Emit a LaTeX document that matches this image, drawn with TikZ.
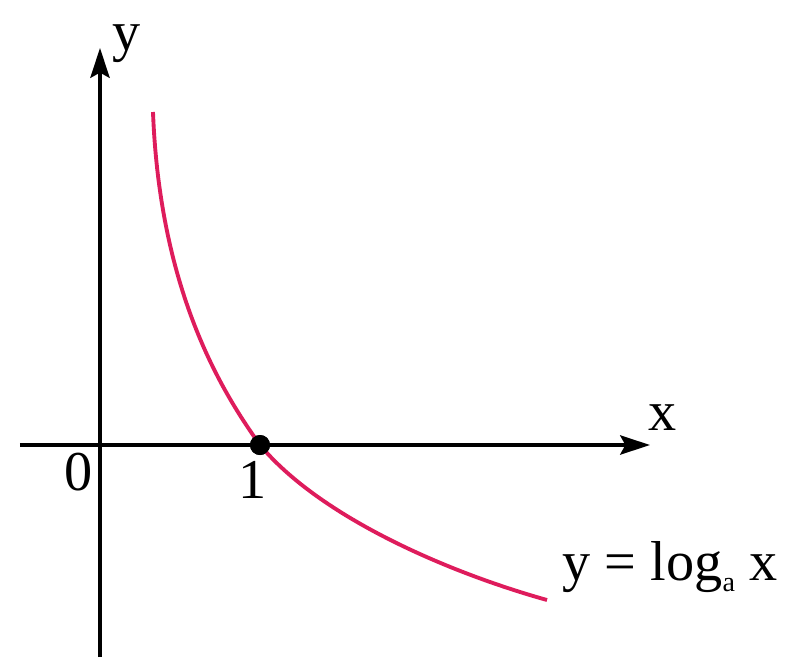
\documentclass[tikz,border=0pt]{standalone}
\usepackage{fontspec}
\setmainfont{Liberation Serif}
\usetikzlibrary{arrows.meta}
\definecolor{curvered}{RGB}{222, 28, 92}

\begin{document}
\begin{tikzpicture}[x=1cm, y=1cm, >={Stealth[length=8.5pt, width=5.5pt, inset=1.5pt]},
    lbl/.style={font=\fontsize{16}{19}\selectfont, inner sep=0pt}]
  \useasboundingbox (0,0) rectangle (7.91,6.57);

  % axes
  \coordinate (O) at (1.00,2.12);
  \coordinate (xl) at (0.20,2.12);
  \coordinate (xr) at (6.50,2.12);
  \coordinate (yb) at (1.00,0);
  \coordinate (yt) at (1.00,6.09);
  \draw[->, line width=0.9pt] (xl) -- (xr);
  \draw[->, line width=0.9pt] (yb) -- (yt);
  \node[lbl, anchor=base] (xlab) at (6.63,2.27) {x};
  \node[lbl, anchor=base] (ylab) at (1.27,6.07) {y};
  \node[lbl, anchor=base] (zero) at (0.79,1.67) {0};
  \node[lbl, anchor=base] (one) at (2.53,1.59) {1};

  % curve y = log_a x, with 0 < a < 1
  \coordinate (top) at (1.53,5.45);
  \coordinate (end) at (5.47,0.57);
  \node[circle, fill=black, inner sep=0pt, minimum size=0.2cm] (p1) at (2.60,2.12) {};
  \draw[curvered, line width=1.1pt] (top) .. controls (1.60,3.60) and (2.26,2.60) .. (p1.center)
    .. controls (3.20,1.40) and (4.47,0.85) .. (end);
  \fill (p1) circle (0.1);
  \node[lbl, anchor=base west] (eq) at (5.62,0.77)
    {y = log\raisebox{-0.45ex}{\fontsize{8}{9}\selectfont a} x};
\end{tikzpicture}
\end{document}
